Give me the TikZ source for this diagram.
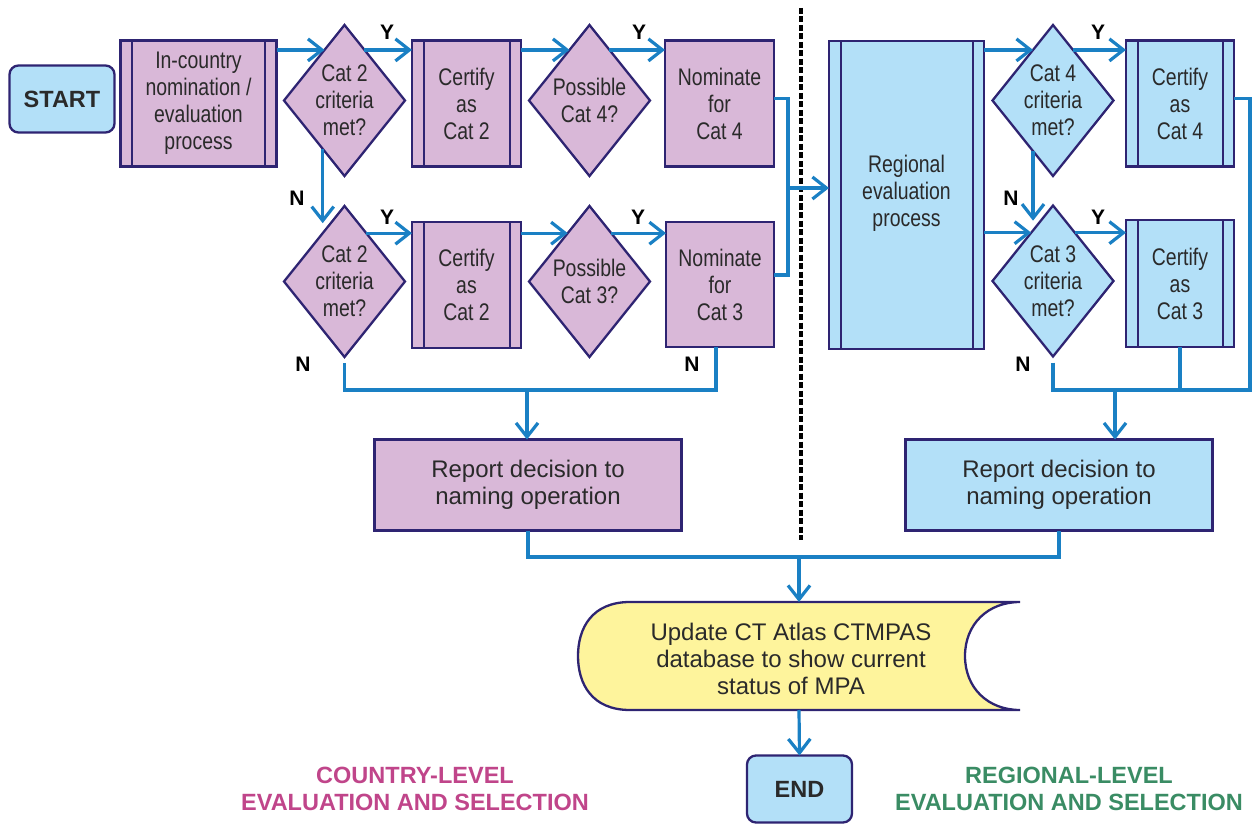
\documentclass[tikz,border=0pt]{standalone}
\usepackage{fontspec}
\setmainfont{Liberation Sans}
\newfontfamily\narrowfont{Liberation Sans}[FakeStretch=0.81]
\usetikzlibrary{shapes.geometric,arrows.meta,calc}
\definecolor{navy}{HTML}{2E2472}
\definecolor{purp}{HTML}{D9B8D8}
\definecolor{lblue}{HTML}{B3E0F8}
\definecolor{yel}{HTML}{FEF49C}
\definecolor{ablue}{HTML}{1A80C4}
\definecolor{txt}{HTML}{2A2A2A}
\definecolor{mag}{HTML}{C0458A}
\definecolor{grn}{HTML}{3A8C64}
\tikzset{
  base/.style={draw=navy, line width=2.3pt, inner sep=0pt, outer sep=0pt, align=center,
    text=txt, font=\narrowfont\fontsize{24}{27}\selectfont},
  proc/.style={base, rectangle, fill=purp},
  bproc/.style={base, rectangle, fill=lblue},
  dbl/.style={path picture={
    \draw[navy, line width=2pt]
      ([xshift=11.5pt]path picture bounding box.north west) -- ([xshift=11.5pt]path picture bounding box.south west)
      ([xshift=-11.5pt]path picture bounding box.north east) -- ([xshift=-11.5pt]path picture bounding box.south east);}},
  dia/.style={base, diamond, minimum width=121pt, minimum height=151pt},
  dtext/.style={align=center, text=txt, font=\narrowfont\fontsize{24}{27}\selectfont, inner sep=0pt},
  term/.style={base, rounded corners=9pt, fill=lblue, minimum width=105pt, minimum height=67pt,
    font=\bfseries\fontsize{23.5}{26}\selectfont},
  conn/.style={draw=ablue, line width=3.2pt},
  arr/.style={conn, -{Straight Barb[length=14pt,width=22pt]}},
  yn/.style={font=\bfseries\fontsize{21}{21}\selectfont, text=black, inner sep=0pt},
  ttl/.style={align=center, font=\bfseries\fontsize{23.5}{27}\selectfont, inner sep=0pt},
  wide/.style={font=\fontsize{24}{27}\selectfont}
}
\begin{document}
\begin{tikzpicture}[x=1pt,y=-1pt]
\useasboundingbox (0,0) rectangle (1259,824);
% dashed separator
\draw[black, line width=3.5pt, dash pattern=on 6pt off 2.5pt] (801,8) -- (801,540);

% nodes
\node[term] (start) at (62,99) {START};
\node[proc, dbl, minimum width=156pt, minimum height=126pt] (inc) at (198.5,103.5) {In-country\\nomination /\\evaluation\\process};
\node[dia, fill=purp] (d1) at (344.5,100.5) {};
\node[dtext] (d1t) at (d1) {Cat 2\\criteria\\met?};
\node[proc, dbl, minimum width=109pt, minimum height=126pt] (c2a) at (466.5,103.5) {Certify\\as\\Cat 2};
\node[dia, fill=purp] (p4) at (589.5,100.5) {};
\node[dtext] (p4t) at (p4) {Possible\\Cat 4?};
\node[proc, minimum width=109pt, minimum height=126pt] (n4) at (719.5,103.5) {Nominate\\for\\Cat 4};

\node[dia, fill=purp] (d2) at (344.5,281.5) {};
\node[dtext] (d2t) at (d2) {Cat 2\\criteria\\met?};
\node[proc, dbl, minimum width=109pt, minimum height=126pt] (c2b) at (466.5,285) {Certify\\as\\Cat 2};
\node[dia, fill=purp] (p3) at (589.5,281.5) {};
\node[dtext] (p3t) at (p3) {Possible\\Cat 3?};
\node[proc, minimum width=108pt, minimum height=125pt] (n3) at (720,284.5) {Nominate\\for\\Cat 3};

\node[bproc, dbl, minimum width=155pt, minimum height=308pt] (reg) at (906.5,195) {};
\node[dtext] (regt) at (906.5,193) {Regional\\evaluation\\process};
\node[dia, fill=lblue] (d4) at (1053,100.5) {};
\node[dtext] (d4t) at (d4) {Cat 4\\criteria\\met?};
\node[bproc, dbl, minimum width=108pt, minimum height=126pt] (c4) at (1180,103.5) {Certify\\as\\Cat 4};
\node[dia, fill=lblue] (d3) at (1053,281) {};
\node[dtext] (d3t) at (d3) {Cat 3\\criteria\\met?};
\node[bproc, dbl, minimum width=108pt, minimum height=127pt] (c3) at (1180,283.5) {Certify\\as\\Cat 3};

\node[proc, minimum width=307pt, minimum height=91pt, wide] (rep1) at (528,485) {Report decision to\\naming operation};
\node[bproc, minimum width=307pt, minimum height=91pt, wide] (rep2) at (1059,485) {Report decision to\\naming operation};

\node[minimum width=442pt, minimum height=108pt, inner sep=0pt, outer sep=0pt] (upd) at (799,656) {};
\draw[draw=navy, line width=2.3pt, fill=yel]
  (1020,602) -- (630,602) .. controls (592,602) and (578,628) .. (578,656)
  .. controls (578,684) and (592,710) .. (630,710) -- (1020,710)
  .. controls (988,710) and (965,688) .. (965,656)
  .. controls (965,624) and (988,602) .. (1020,602) -- cycle;
\node[align=center, text=txt, inner sep=0pt, wide] (updt) at (791,659) {Update CT Atlas CTMPAS\\database to show current\\status of MPA};

\node[term] (end) at (799.5,789) {END};

% edge points on diamonds
\coordinate (d1in) at ($(d1.north)!0.33!(d1.west)$);
\coordinate (d1out) at ($(d1.north)!0.33!(d1.east)$);
\coordinate (p4in) at ($(p4.north)!0.33!(p4.west)$);
\coordinate (p4out) at ($(p4.north)!0.33!(p4.east)$);
\coordinate (d2in) at ($(d2.north)!0.36!(d2.west)$);
\coordinate (d2out) at ($(d2.north)!0.36!(d2.east)$);
\coordinate (p3in) at ($(p3.north)!0.36!(p3.west)$);
\coordinate (p3out) at ($(p3.north)!0.36!(p3.east)$);
\coordinate (d1n) at ($(d1.south)!0.36!(d1.west)$);
\coordinate (d4in) at ($(d4.north)!0.33!(d4.west)$);
\coordinate (d4out) at ($(d4.north)!0.33!(d4.east)$);
\coordinate (d3in) at ($(d3.north)!0.36!(d3.west)$);
\coordinate (d3out) at ($(d3.north)!0.36!(d3.east)$);
\coordinate (d4n) at ($(d4.south)!0.33!(d4.west)$);
\coordinate (j1) at (788,188);
\coordinate (b1) at (527,390);
\coordinate (b2) at (1115,390);
\coordinate (rr) at (1250,390);
\coordinate (b3) at (799,557);

% connectors row 1
\draw[arr] (inc.east |- d1in) -- (d1in);
\draw[arr] (d1out) -- (c2a.west |- d1out);
\draw[arr] (c2a.east |- p4in) -- (p4in);
\draw[arr] (p4out) -- (n4.west |- p4out);
\draw[arr, shorten >=10pt] (d1n) -- (d1n |- d2in);
% row 2
\draw[arr] (d2out) -- (c2b.west |- d2out);
\draw[arr] (c2b.east |- p3in) -- (p3in);
\draw[arr] (p3out) -- (n3.west |- p3out);
% to regional
\draw[conn] ([yshift=5pt]n4.east) -| (j1);
\draw[conn] ([yshift=9.5pt]n3.east) -| (j1);
\draw[arr] (j1) -- (reg.west |- j1);
% regional side
\draw[arr] (reg.east |- d4in) -- (d4in);
\draw[arr] (d4out) -- (c4.west |- d4out);
\draw[arr] (reg.east |- d3in) -- (d3in);
\draw[arr] (d3out) -- (c3.west |- d3out);
\draw[arr, shorten >=12pt] (d4n) -- (d4n |- d3in);
% bottom collectors
\draw[conn, shorten <=6pt] (d2.south) |- ([xshift=-4pt]n3.south |- b1) -- ([xshift=-4pt]n3.south);
\draw[arr] (b1) -- (b1 |- rep1.north);
\draw[conn, shorten <=6pt] (d3.south) |- (rr) |- ([yshift=5pt]c4.east);
\draw[conn] (c3.south) -- (c3.south |- rr);
\draw[arr] (b2) -- (b2 |- rep2.north);
\draw[conn] (rep1.south) |- (b3) -| (rep2.south);
\draw[arr] (b3) -- (upd.north);
\draw[arr] (upd.south) -- (end.north);

% Y / N labels
\node[yn] (y1) at (387,32) {Y};
\node[yn] (y2) at (639,32) {Y};
\node[yn] (y3) at (387,217) {Y};
\node[yn] (y4) at (638,217) {Y};
\node[yn] (y5) at (1098,32) {Y};
\node[yn] (y6) at (1098,217) {Y};
\node[yn] (n1) at (297,198) {N};
\node[yn] (n2) at (303,364) {N};
\node[yn] (n3l) at (692,364) {N};
\node[yn] (n4l) at (1011,198) {N};
\node[yn] (n5) at (1023,364) {N};

% titles
\node[ttl, text=mag] (tc) at (415,789) {COUNTRY-LEVEL\\EVALUATION AND SELECTION};
\node[ttl, text=grn] (tr) at (1069,789) {REGIONAL-LEVEL\\EVALUATION AND SELECTION};
\end{tikzpicture}
\end{document}
